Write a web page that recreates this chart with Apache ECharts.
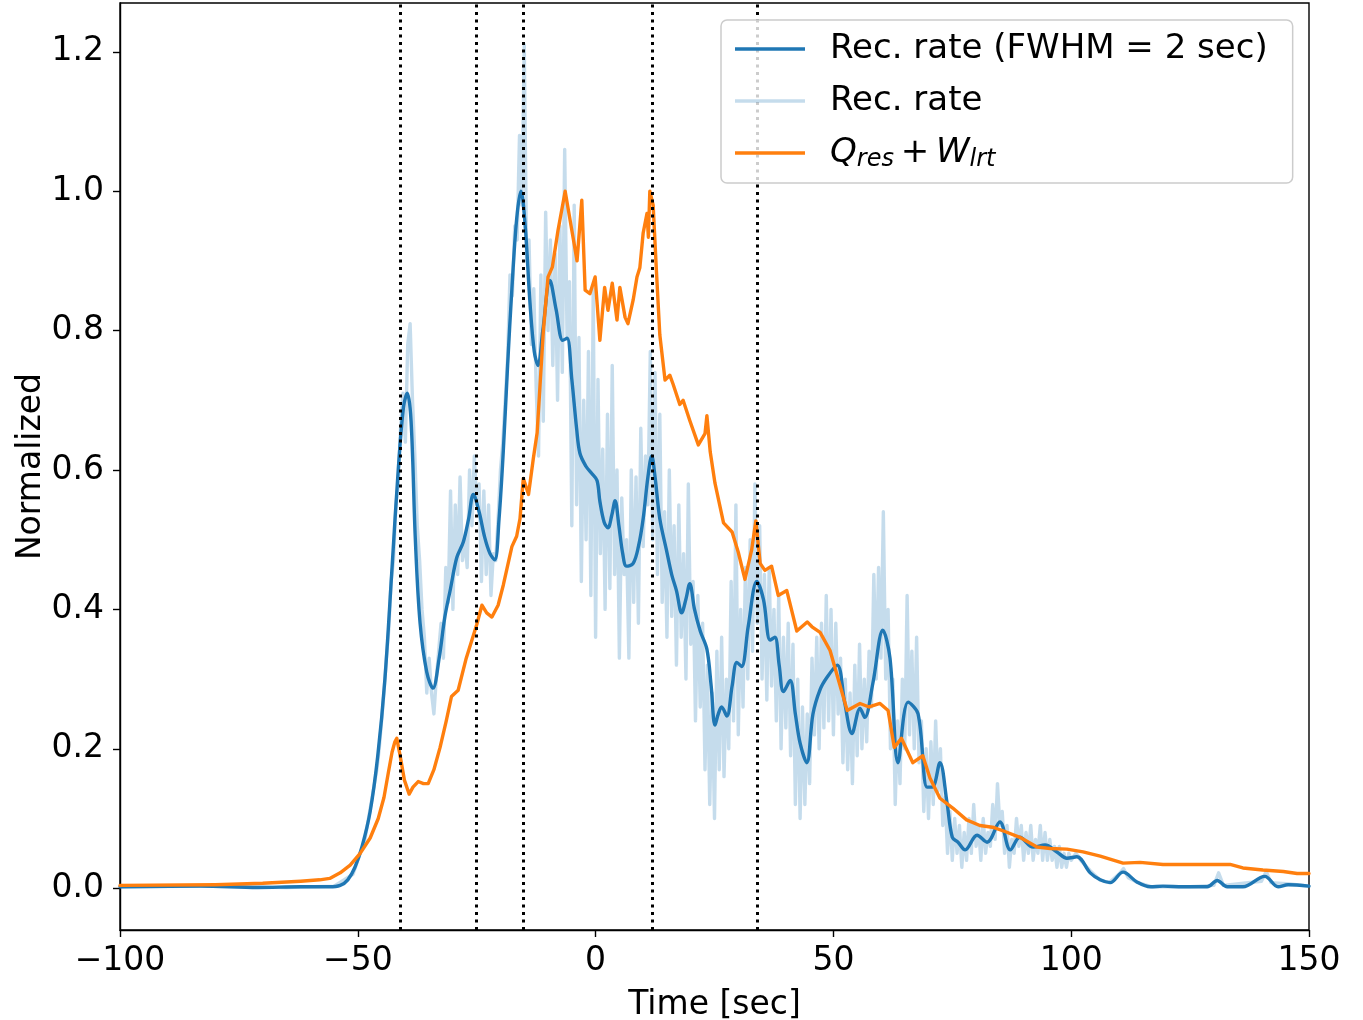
<!DOCTYPE html>
<html>
<head>
<meta charset="utf-8">
<script src="https://cdn.jsdelivr.net/npm/echarts@6/dist/echarts.min.js"></script>
<style>
  html, body { margin: 0; padding: 0; background: #fff; }
  #chart { width: 1363px; height: 1020px; }
</style>
</head>
<body>
<div id="chart"></div>
<script>
// axis ticks
var xTicks = [-100, -50, 0, 50, 100, 150];
var yTicks = [0, 0.2, 0.4, 0.6, 0.8, 1.0, 1.2];

// times of the dotted event lines [sec]
var eventTimes = [-41, -25.1, -15.2, 12, 34];

// Rec. rate smoothed (FWHM = 2 sec) : [time, value]
var smoothRate = [
  [-100,0.002],[-83,0.003],[-71,0.001],[-62,0.002],[-56,0.002],[-53.7,0.004],[-52.1,0.012],
  [-50.6,0.03],[-49.1,0.06],[-47.4,0.11],[-45.8,0.19],[-44.3,0.30],[-42.8,0.46],[-41.5,0.60],
  [-40.4,0.69],[-39.6,0.71],[-38.8,0.67],[-37.9,0.50],[-36.9,0.38],[-35.5,0.31],[-34.2,0.287],
  [-32.9,0.33],[-31.7,0.389],[-30.5,0.43],[-29.2,0.474],[-27.8,0.497],[-26.7,0.53],[-25.7,0.565],
  [-24.5,0.54],[-23.3,0.503],[-22.2,0.48],[-21.2,0.471],[-20.3,0.53],[-19.4,0.628],[-18.5,0.75],
  [-17.6,0.86],[-16.6,0.96],[-15.7,1.0],[-14.8,0.95],[-13.8,0.84],[-12.9,0.77],[-12.1,0.75],
  [-11.1,0.80],[-9.6,0.872],[-8.3,0.83],[-6.9,0.786],[-6.0,0.789],[-5.0,0.73],[-4.0,0.66],
  [-3.3,0.624],[-2.0,0.605],[-0.8,0.595],[0.3,0.585],[0.9,0.555],[1.8,0.525],[2.6,0.517],
  [3.4,0.535],[4.1,0.556],[4.9,0.52],[5.7,0.48],[6.5,0.462],[7.9,0.466],[9.0,0.49],[10.0,0.53],
  [11.0,0.59],[11.8,0.62],[12.5,0.59],[13.5,0.53],[14.9,0.485],[16.0,0.45],[17.0,0.427],
  [18.1,0.395],[19.0,0.415],[19.8,0.437],[20.8,0.40],[22.0,0.369],[23.4,0.343],[24.3,0.29],
  [25.1,0.234],[25.8,0.25],[26.5,0.26],[27.6,0.247],[28.7,0.29],[29.7,0.324],[30.7,0.318],
  [32.1,0.376],[33.9,0.44],[35.3,0.414],[36.7,0.356],[37.7,0.36],[38.6,0.32],[39.5,0.282],
  [40.9,0.298],[42.0,0.25],[43.0,0.208],[44.4,0.18],[45.7,0.25],[47.2,0.285],[48.7,0.303],
  [50.8,0.32],[52.4,0.265],[53.9,0.222],[55.6,0.258],[56.6,0.245],[58.3,0.294],[60.4,0.37],
  [61.9,0.33],[63.6,0.18],[65.7,0.267],[67.8,0.25],[69.7,0.145],[70.8,0.145],[72.4,0.18],
  [73.9,0.122],[75.0,0.073],[76.2,0.066],[77.7,0.055],[80.2,0.076],[82.3,0.066],[85.0,0.095],
  [87.2,0.055],[89.2,0.073],[92.0,0.059],[94.5,0.062],[97.0,0.052],[99.1,0.043],[101.2,0.045],
  [104.0,0.022],[106.1,0.012],[108.2,0.008],[110.9,0.023],[113.8,0.009],[116.6,0.002],
  [119.3,0.003],[123.5,0.002],[128.6,0.002],[130.7,0.011],[132.8,0.002],[136.1,0.002],
  [140.7,0.017],[143.5,0.002],[145.6,0.005],[150,0.003]
];

// raw Rec. rate, one value every 0.5 sec from -50 to 100 sec
var rawStart = -50;
var rawStep = 0.5;
var rawRate = [
  0.04,0.05,0.06,0.07,0.09,0.11,0.13,0.15,0.17,0.20,0.24,0.28,0.33,0.37,0.44,0.47,0.55,0.58,0.66,0.71,
  0.64,0.78,0.81,0.70,0.62,0.52,0.47,0.40,0.36,0.28,0.33,0.28,0.25,0.30,0.34,0.38,0.33,0.46,0.41,0.57,
  0.40,0.55,0.45,0.59,0.47,0.50,0.46,0.60,0.52,0.62,0.55,0.58,0.44,0.57,0.45,0.55,0.42,0.48,0.47,0.53,
  0.60,0.64,0.70,0.76,0.88,0.85,0.95,0.93,1.08,0.98,1.21,0.90,0.93,0.78,0.86,0.72,0.62,0.88,0.67,0.97,
  0.80,0.93,0.75,0.91,0.70,0.95,0.74,1.06,0.79,0.87,0.52,0.98,0.55,0.79,0.44,0.70,0.50,0.77,0.42,0.86,
  0.36,0.73,0.48,0.63,0.40,0.68,0.43,0.75,0.45,0.60,0.33,0.56,0.45,0.50,0.33,0.60,0.41,0.59,0.38,0.66,
  0.49,0.62,0.55,0.77,0.50,0.74,0.45,0.68,0.41,0.54,0.36,0.60,0.39,0.52,0.32,0.55,0.36,0.48,0.30,0.58,
  0.35,0.44,0.24,0.42,0.26,0.38,0.17,0.32,0.12,0.28,0.10,0.34,0.17,0.36,0.16,0.30,0.20,0.44,0.24,0.55,
  0.22,0.40,0.26,0.46,0.30,0.50,0.34,0.58,0.38,0.52,0.30,0.45,0.27,0.46,0.29,0.40,0.24,0.42,0.20,0.36,
  0.23,0.38,0.19,0.35,0.12,0.30,0.10,0.26,0.12,0.25,0.15,0.33,0.22,0.36,0.20,0.38,0.23,0.42,0.24,0.40,
  0.22,0.38,0.25,0.33,0.18,0.30,0.17,0.28,0.15,0.32,0.19,0.35,0.20,0.30,0.21,0.34,0.26,0.45,0.30,0.46,
  0.33,0.54,0.30,0.40,0.20,0.30,0.12,0.24,0.15,0.30,0.20,0.42,0.22,0.34,0.20,0.36,0.18,0.24,0.11,0.20,
  0.10,0.21,0.12,0.24,0.14,0.20,0.09,0.13,0.05,0.11,0.04,0.10,0.05,0.09,0.03,0.08,0.04,0.10,0.05,0.12,
  0.06,0.09,0.04,0.10,0.05,0.08,0.06,0.12,0.07,0.15,0.09,0.11,0.05,0.09,0.03,0.07,0.05,0.10,0.06,0.09,
  0.04,0.08,0.05,0.09,0.04,0.07,0.05,0.09,0.04,0.08,0.04,0.07,0.04,0.06,0.03,0.06,0.03,0.05,0.03,0.05,
  0.04
];
// raw Rec. rate outside the busy part : [time, value]
var rawHead = [[-100,0.002],[-80,0.003],[-65,0.001],[-55,0.003],[-51,0.02]];
var rawTail = [
  [101,0.05],[102,0.04],[104,0.025],[106,0.012],[108,0.008],[110,0.02],[111,0.028],[112,0.015],
  [114,0.008],[117,0.002],[125,0.002],[130,0.004],[131,0.022],[132,0.004],[140,0.01],[141,0.024],
  [142,0.008],[146,0.006],[150,0.003]
];

// Q_res + W_lrt : [time, value]
var qresWlrt = [
  [-100,0.004],[-80,0.005],[-70,0.007],[-62,0.01],[-58,0.012],[-55.9,0.014],[-53.7,0.022],
  [-51.6,0.033],[-49.5,0.05],[-47.4,0.072],[-45.7,0.1],[-44.5,0.13],[-43.6,0.165],[-42.8,0.195],
  [-42.2,0.21],[-41.8,0.215],[-41.1,0.19],[-40.2,0.155],[-39.2,0.135],[-38.4,0.145],[-37.3,0.153],
  [-36.2,0.15],[-35.2,0.15],[-34.0,0.17],[-32.7,0.202],[-31.4,0.24],[-30.3,0.275],[-28.9,0.284],
  [-27.2,0.33],[-25.0,0.378],[-23.9,0.406],[-22.9,0.395],[-21.8,0.389],[-20.5,0.406],[-19.4,0.435],
  [-17.6,0.49],[-16.6,0.505],[-15.9,0.53],[-15.2,0.588],[-14.1,0.565],[-13.1,0.616],[-12.3,0.653],
  [-11.0,0.798],[-10.0,0.877],[-9.1,0.891],[-7.9,0.944],[-6.4,1.0],[-4.9,0.94],[-3.9,0.90],
  [-2.9,0.987],[-2.2,0.858],[-1.2,0.853],[-0.1,0.877],[0.9,0.786],[1.9,0.862],[2.6,0.829],
  [3.5,0.868],[4.5,0.815],[5.1,0.862],[6.2,0.819],[6.8,0.81],[7.9,0.844],[8.7,0.877],[9.3,0.89],
  [10.0,0.94],[10.8,0.968],[11.1,0.934],[11.4,1.0],[12.1,0.98],[12.8,0.884],[13.5,0.794],
  [14.6,0.729],[15.6,0.736],[16.3,0.723],[17.7,0.694],[18.4,0.70],[19.8,0.671],[21.6,0.636],
  [23.0,0.652],[23.4,0.678],[24.1,0.626],[25.1,0.581],[26.9,0.524],[28.7,0.511],[30.0,0.482],
  [31.4,0.443],[32.8,0.485],[33.7,0.527],[34.6,0.466],[35.6,0.456],[37.0,0.462],[38.4,0.42],
  [40.2,0.427],[42.3,0.369],[44.5,0.382],[45.5,0.375],[47.2,0.367],[49.3,0.341],[51.0,0.30],
  [52.9,0.255],[55.6,0.265],[57.5,0.26],[59.8,0.265],[61.5,0.255],[62.8,0.202],[64.3,0.215],
  [66.7,0.18],[68.8,0.19],[70.3,0.158],[72.4,0.129],[75.1,0.115],[78.0,0.098],[80.8,0.09],
  [83.8,0.087],[86.2,0.081],[89.2,0.073],[92.8,0.059],[95.6,0.057],[99.1,0.056],[102.5,0.052],
  [106.1,0.046],[110.9,0.036],[114.5,0.037],[119.3,0.034],[127.1,0.034],[133.4,0.034],
  [136.1,0.029],[140.3,0.026],[144.6,0.024],[147.5,0.021],[150,0.021]
];

var rawSeries = rawHead
  .concat(rawRate.map(function (v, i) { return [rawStart + i * rawStep, v]; }))
  .concat(rawTail);

var FONT = 'DejaVu Sans';
var chart = echarts.init(document.getElementById('chart'), null, { renderer: 'canvas' });

chart.setOption({
  backgroundColor: '#fff',
  animation: false,
  grid: {
    left: 120, right: 54, top: 3, bottom: 90,
    show: true, borderColor: '#000', borderWidth: 1.4,
    containLabel: false, outerBoundsMode: 'none'
  },
  legend: {
    left: 721, top: 20,
    orient: 'vertical',
    z: 10,
    icon: 'rect',
    itemWidth: 70, itemHeight: 3.5, itemGap: 12,
    padding: [9, 25, 10, 14],
    backgroundColor: 'rgba(255,255,255,0.8)',
    borderColor: '#cccccc', borderWidth: 1.5, borderRadius: 6,
    data: ['Rec. rate (FWHM = 2 sec)', 'Rec. rate', 'Qres + Wlrt'],
    formatter: function (name) {
      if (name === 'Qres + Wlrt') return '{m|Q}{s|res}{p|\u2009+\u2009}{m|W}{s|lrt}';
      return name;
    },
    textStyle: {
      fontFamily: FONT, fontSize: 34, color: '#000', lineHeight: 40,
      padding: [0, 0, 0, 20],
      rich: {
        m: { fontFamily: FONT, fontStyle: 'italic', fontSize: 34, color: '#000' },
        s: { fontFamily: FONT, fontStyle: 'italic', fontSize: 24, color: '#000', padding: [14, 0, 0, 0] },
        p: { fontFamily: FONT, fontSize: 34, color: '#000' }
      }
    }
  },
  xAxis: {
    type: 'value', min: -100, max: 150, interval: 50,
    name: 'Time [sec]', nameLocation: 'middle', nameGap: 59,
    nameTextStyle: { fontFamily: FONT, fontSize: 33, color: '#000' },
    axisLine: { show: true, onZero: false, lineStyle: { color: '#000', width: 1.4 } },
    axisTick: { show: true, length: 7, lineStyle: { color: '#000', width: 1.4 } },
    axisLabel: {
      margin: 15, fontFamily: FONT, fontSize: 33, color: '#000',
      formatter: function (v) { return v < 0 ? '\u2212' + Math.abs(v) : String(v); }
    },
    splitLine: { show: false }
  },
  yAxis: {
    type: 'value', min: -0.06, max: 1.27,
    name: 'Normalized', nameLocation: 'middle', nameGap: 72, nameRotate: 90,
    nameMoveOverlap: false,
    nameTextStyle: { fontFamily: FONT, fontSize: 33, color: '#000' },
    axisLine: { show: true, onZero: false, lineStyle: { color: '#000', width: 1.4 } },
    axisTick: { show: true, length: 7, customValues: yTicks, lineStyle: { color: '#000', width: 1.4 } },
    axisLabel: {
      margin: 16, fontFamily: FONT, fontSize: 33, color: '#000',
      customValues: yTicks,
      formatter: function (v) { return v.toFixed(1); }
    },
    splitLine: { show: false }
  },
  series: [
    {
      name: 'Rec. rate (FWHM = 2 sec)', type: 'line', data: smoothRate,
      showSymbol: false, symbol: 'none', smooth: 0.35,
      lineStyle: { color: '#1f77b4', width: 3.4, cap: 'round', join: 'round' }, itemStyle: { color: '#1f77b4' }
    },
    {
      name: 'Rec. rate', type: 'line', data: rawSeries,
      showSymbol: false, symbol: 'none',
      lineStyle: { color: 'rgba(31,119,180,0.26)', width: 3.4, join: 'round' }, itemStyle: { color: 'rgba(31,119,180,0.26)' }
    },
    {
      name: 'Qres + Wlrt', type: 'line', data: qresWlrt,
      showSymbol: false, symbol: 'none',
      lineStyle: { color: '#ff7f0e', width: 3.4, cap: 'round', join: 'round' }, itemStyle: { color: '#ff7f0e' },
      markLine: {
        silent: true, symbol: ['none', 'none'], animation: false,
        label: { show: false },
        lineStyle: { color: '#000', type: [3, 4.5], width: 3 },
        data: eventTimes.map(function (t) { return { xAxis: t }; })
      }
    }
  ]
});
</script>
</body>
</html>
